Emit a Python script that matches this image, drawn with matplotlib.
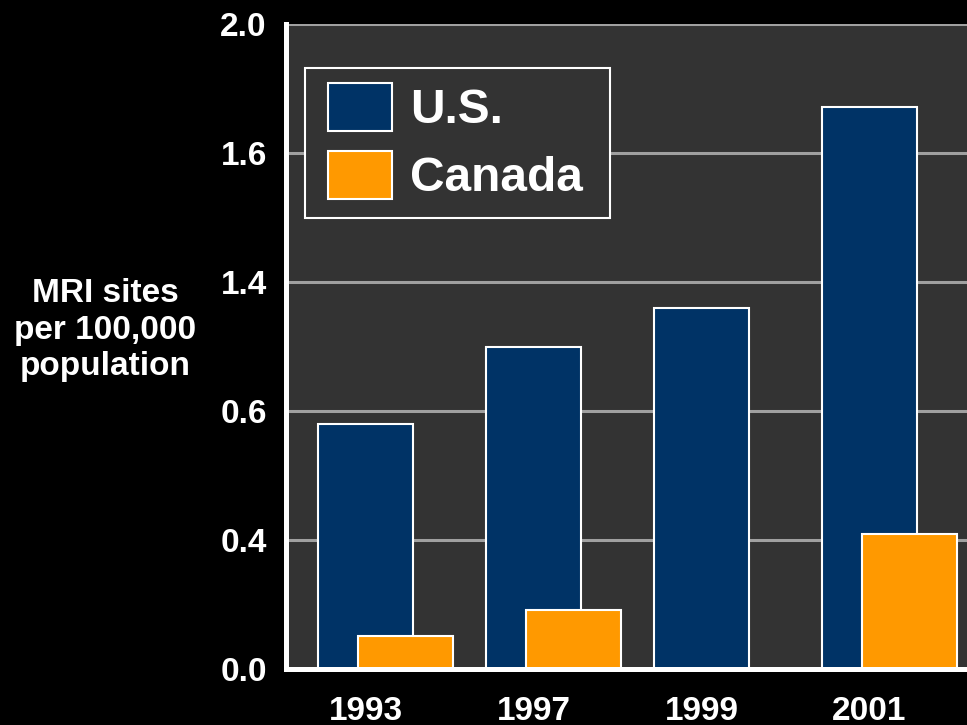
import numpy as np
import matplotlib.pyplot as plt
from matplotlib.patches import Patch, Rectangle

plt.rcParams['font.family'] = ['Liberation Sans', 'DejaVu Sans']
plt.rcParams['font.weight'] = 'bold'

# categories and bar heights (in gridline steps of the original chart)
years = ['1993', '1997', '1999', '2001']
us = [1.90, 2.50, 2.80, 4.36]
canada = [0.26, 0.46, 0.0, 1.05]
# the chart's own (uneven) labels on evenly spaced gridlines
ytick_labels = ['0.0', '0.4', '0.6', '1.4', '1.6', '2.0']

navy = '#003366'
orange = '#ff9900'
panel = '#333333'

fig = plt.figure(figsize=(9.67, 7.25), dpi=100, facecolor='black')
ax = fig.add_axes([0.296, 0.077, 0.704, 0.890], facecolor=panel)

x = np.arange(len(years))
w = 0.565
off = 0.238
ax.bar(x, us, width=w, color=navy, edgecolor='white', lw=1.5, zorder=2)
cx = [xi + off for xi, c in zip(x, canada) if c > 0]
cv = [c for c in canada if c > 0]
ax.bar(cx, cv, width=w, color=orange, edgecolor='white', lw=1.5, zorder=3)

ax.set_xlim(-0.473, -0.473 + 681 / 168)
ax.set_ylim(0, 5)
ax.set_yticks(range(len(ytick_labels)))
ax.set_yticklabels(ytick_labels)
ax.set_xticks(x)
ax.set_xticklabels(years)
ax.tick_params(axis='both', length=0, colors='white', labelsize=24)
ax.tick_params(axis='y', pad=14)
ax.tick_params(axis='x', pad=19)
for lab in ax.get_xticklabels() + ax.get_yticklabels():
    lab.set_fontweight('bold')

ax.grid(axis='y', color='#a0a0a0', lw=2.2, zorder=0)
ax.set_axisbelow(True)
for s in ('top', 'right'):
    ax.spines[s].set_visible(False)
for s in ('left', 'bottom'):
    ax.spines[s].set_color('white')
    ax.spines[s].set_linewidth(3.6)
    ax.spines[s].set_zorder(4)

# legend box drawn by hand so its padding matches the original
ax.add_patch(Rectangle((0.028, 0.699), 0.448, 0.233, transform=ax.transAxes,
                       facecolor=panel, edgecolor='white', lw=1.5, zorder=5))
handles = [Patch(facecolor=navy, edgecolor='white', lw=1.5, label='U.S.'),
           Patch(facecolor=orange, edgecolor='white', lw=1.5, label='Canada')]
leg = ax.legend(handles=handles, loc='upper left', bbox_to_anchor=(0.0617, 0.9085),
                borderaxespad=0, prop={'weight': 'bold', 'size': 34.5},
                handlelength=1.34, handleheight=1.17, handletextpad=0.36,
                labelspacing=0.36, borderpad=0, frameon=False)
leg.set_zorder(6)
for t in leg.get_texts():
    t.set_color('white')

fig.text(105 / 967, 1 - 330 / 725, 'MRI sites\nper 100,000\npopulation',
         color='white', fontsize=24, fontweight='bold', ha='center', va='center',
         linespacing=1.25)

fig.savefig('out.png', dpi=100, facecolor='black')
